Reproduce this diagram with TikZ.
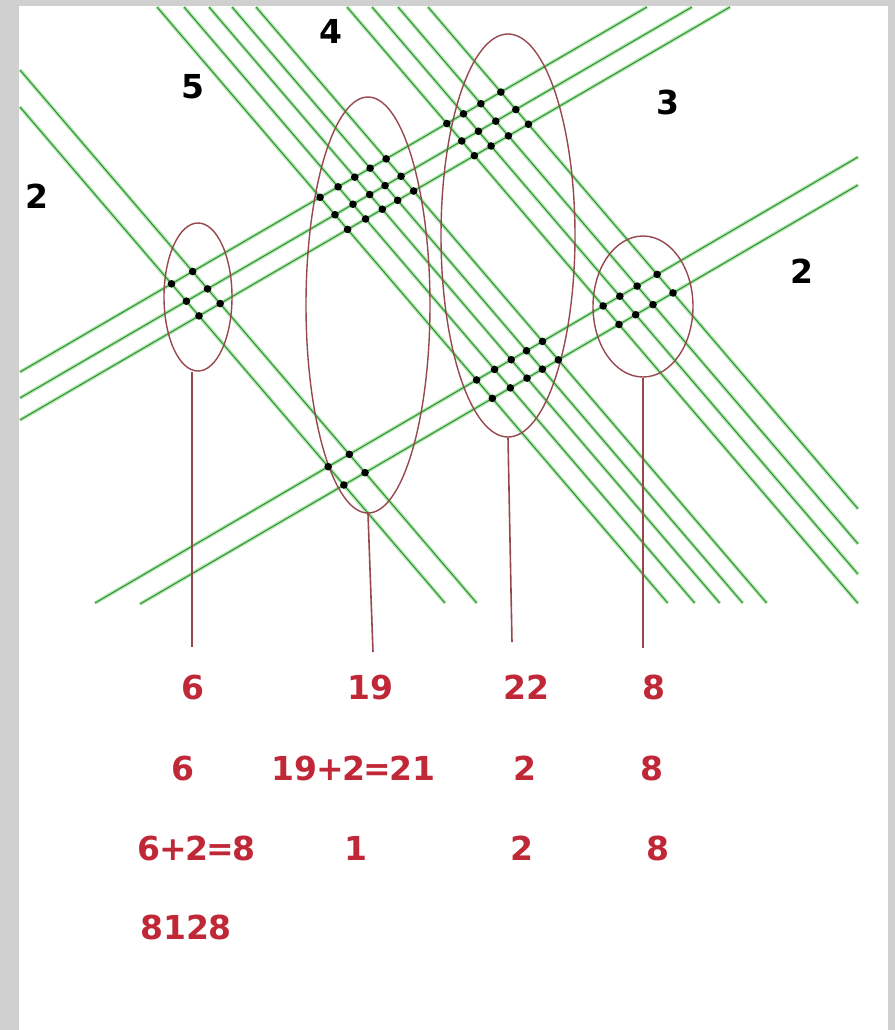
\documentclass[tikz,border=0pt]{standalone}
\usepackage{fontspec}
\setmainfont{DejaVu Sans}
\usetikzlibrary{shapes.geometric,intersections}
\definecolor{strand}{RGB}{50,140,50}
\definecolor{halo}{RGB}{175,232,175}
\definecolor{loopred}{RGB}{150,72,78}
\definecolor{tally}{RGB}{192,40,56}
\definecolor{marble}{RGB}{208,208,208}
\newcommand{\tight}[1]{\kern-.05em#1\kern-.05em}

\begin{document}
\begin{tikzpicture}[x=.5pt,y=-.5pt,font=\fontsize{16.5}{18}\selectfont\bfseries,
 wire/.style={draw=strand,line width=.5pt,preaction={draw=halo,line width=1.8pt}},
 oval/.style={ellipse,draw=loopred,line width=.7pt,inner sep=0pt},
 stem/.style={draw=loopred,line width=.8pt},
 tallytext/.style={text=tally,inner sep=0pt},
 digitlabel/.style={text=black,inner sep=0pt}]
\useasboundingbox (0,0) rectangle (895,1030);
\fill[marble] (0,0) rectangle (895,1030);
\fill[white] (19,6) rectangle (888,1030);
% 254: lines going down
\foreach \y [count=\n] in {70,107}
 \draw[wire,name path global=down\n] (20,\y) -- ({20+(603-\y)/1.167},603);
\foreach \s [count=\n from 3] in {157,184,209,232,256}
 \draw[wire,name path global=down\n] (\s,7) -- ({\s+510.7},603);
\foreach \s [count=\n from 8] in {347,372,398,428}
 \draw[wire,name path global=down\n] (\s,7) -- (858,{7+(858-\s)*1.167});
% 32: lines going up
\foreach \y/\x [count=\n] in {372/647,398/692,420/730}
 \draw[wire,name path global=up\n] (20,\y) -- (\x,7);
\draw[wire,name path global=up4] (95,603) -- (858,157);
\draw[wire,name path global=up5] (140,604) -- (858,185);
% groups of crossings
\node[oval,minimum width=34pt,minimum height=74pt] (e6) at (198,297) {};
\node[oval,minimum width=62pt,minimum height=208pt] (e19) at (368,305) {};
\node[oval,minimum width=67pt,minimum height=201.5pt] (e22) at (508,235.5) {};
\node[oval,minimum width=50pt,minimum height=70.5pt] (e8) at (643,306.5) {};
\coordinate (s6) at (192,647);
\coordinate (s19) at (373,652);
\coordinate (s22) at (512,642);
\coordinate (s8) at (643,648);
\draw[stem] (e6.south -| s6) -- (s6);
\draw[stem] (e19.south) -- (s19);
\draw[stem] (e22.south) -- (s22);
\draw[stem] (e8.south) -- (s8);
\foreach \p in {1,...,11}
 \foreach \q in {1,...,5}
  \fill[name intersections={of={down\p} and {up\q}}] (intersection-1) circle (1.9pt);
% digits of the factors
\node[digitlabel] (h2) at (36.7,196) {2};
\node[digitlabel] (t5) at (192.5,86.7) {5};
\node[digitlabel] (o4) at (331,31) {4};
\node[digitlabel] (t3) at (668,102.5) {3};
\node[digitlabel] (o2) at (801.7,271.7) {2};
% counting
\node[tallytext] (n6) at (192.5,687) {6};
\node[tallytext] (n19) at (370,687) {19};
\node[tallytext] (n22) at (526,687) {22};
\node[tallytext] (n8) at (653.5,687) {8};
\node[tallytext] (m6) at (182.5,768) {6};
\node[tallytext] (m21) at (353.5,768) {19\tight{+}2\tight{=}21};
\node[tallytext] (m2) at (525,768) {2};
\node[tallytext] (m8) at (652,768) {8};
\node[tallytext] (r8) at (196.7,848) {6\tight{+}2\tight{=}8};
\node[tallytext] (r1) at (355.7,848) {1};
\node[tallytext] (r2) at (522,848) {2};
\node[tallytext] (r8b) at (657.5,848) {8};
\node[tallytext] (total) at (186,927) {8128};
\end{tikzpicture}
\end{document}
